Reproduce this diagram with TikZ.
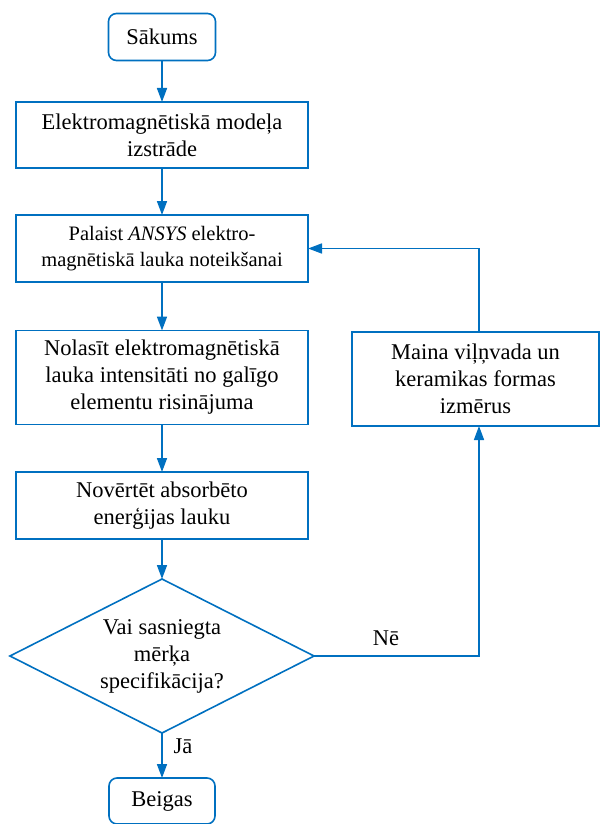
\documentclass[tikz,border=0pt]{standalone}
\usepackage{fontspec}
\setmainfont{Liberation Serif}
\usetikzlibrary{arrows.meta,shapes.geometric}
\definecolor{fblue}{RGB}{0,112,192}
\begin{document}
\begin{tikzpicture}[x=1pt,y=-1pt,
  every node/.style={font=\fontsize{22.5}{27}\selectfont, align=center, inner sep=0pt, outer sep=0pt},
  box/.style={draw=fblue, line width=1.6pt},
  term/.style={box, rounded corners=8pt},
  arr/.style={draw=fblue, line width=1.6pt, -{Triangle[length=14pt,width=10pt]}},
  lbl/.style={font=\fontsize{22.5}{27}\selectfont}]
\useasboundingbox (0,0) rectangle (600,824);
\node[term, minimum width=107pt, minimum height=47pt] (start) at (162,37) {Sākums};
\node[box, minimum width=292pt, minimum height=66pt] (b2) at (162,135) {Elektromagnētiskā modeļa\\izstrāde};
\node[box, minimum width=292pt, minimum height=67pt, font=\fontsize{20.5}{25.7}\selectfont] (b3) at (162,248.5) {Palaist \textit{ANSYS} elektro-\\magnētiskā lauka noteikšanai};
\node[box, minimum width=292pt, minimum height=94pt] (b4) at (162,377.5) {Nolasīt elektromagnētiskā\\lauka intensitāti no galīgo\\elementu risinājuma};
\node[box, minimum width=292pt, minimum height=67pt] (b5) at (162,505.5) {Novērtēt absorbēto\\enerģijas lauku};
\node[box, diamond, aspect=2, minimum width=304pt, minimum height=154pt] (dec) at (162,656) {Vai sasniegta\\mērķa\\specifikācija?};
\node[term, minimum width=106pt, minimum height=46pt] (end) at (162,801) {Beigas};
\node[box, minimum width=247pt, minimum height=94pt] (rb) at (475.5,379) {Maina viļņvada un\\keramikas formas\\izmērus};
\draw[arr] (start) -- (b2);
\draw[arr] (b2) -- (b3);
\draw[arr] (b3) -- (b4);
\draw[arr] (b4) -- (b5);
\draw[arr] (b5) -- (dec);
\draw[arr] (dec) -- (end);
\draw[arr] (dec.east) -| ([xshift=3.5pt]rb.south);
\draw[arr] ([xshift=3.5pt]rb.north) |- (b3.east);
\node[lbl] (ne) at (386,638) {Nē};
\node[lbl] (ja) at (183,746) {Jā};
\end{tikzpicture}
\end{document}
